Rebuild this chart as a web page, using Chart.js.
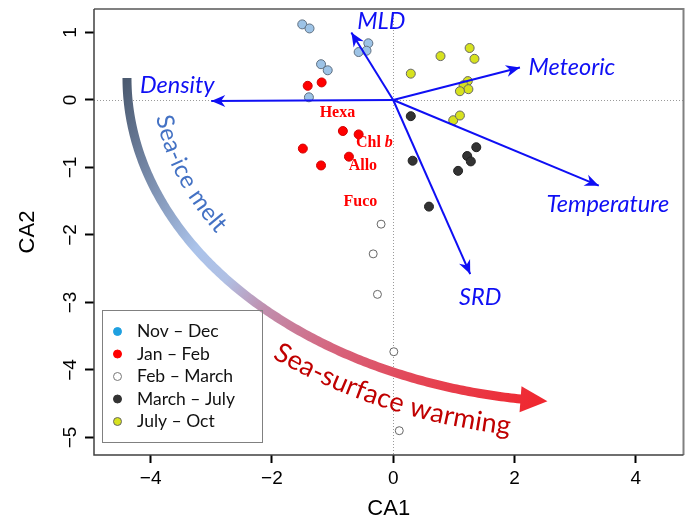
<!DOCTYPE html>
<html>
<head>
<meta charset="utf-8">
<script src="https://cdn.jsdelivr.net/npm/chart.js@4.4.0/dist/chart.umd.min.js"></script>
<style>
  html, body { margin: 0; padding: 0; background: #fff; }
  #wrap { width: 689px; height: 522px; }
</style>
</head>
<body>
<div id="wrap"><canvas id="caPlot"></canvas></div>
<script>
// Sample scores (CA1, CA2) per season
const novDecX = [-1.50, -1.38, -0.41, -0.44, -0.57, -1.19, -1.08, -1.39];
const novDecY = [1.12, 1.06, 0.84, 0.73, 0.71, 0.53, 0.44, 0.04];
const janFebX = [-1.41, -1.18, -1.49, -0.83, -0.57, -0.73, -1.19];
const janFebY = [0.21, 0.26, -0.72, -0.46, -0.51, -0.84, -0.97];
const febMarX = [-0.20, -0.33, -0.26, 0.01, 0.10];
const febMarY = [-1.84, -2.28, -2.88, -3.73, -4.90];
const marJulX = [0.29, 0.32, 0.59, 1.07, 1.22, 1.28, 1.37];
const marJulY = [-0.24, -0.90, -1.58, -1.05, -0.83, -0.91, -0.70];
const julOctX = [0.29, 0.78, 1.26, 1.34, 1.23, 1.16, 1.24, 1.10, 0.99, 1.10];
const julOctY = [0.39, 0.65, 0.77, 0.61, 0.28, 0.22, 0.16, 0.13, -0.30, -0.23];

// Environmental vectors
const arrowNames = ['MLD', 'Meteoric', 'Temperature', 'SRD', 'Density'];
const arrowX = [-0.69, 2.09, 3.39, 1.27, -3.00];
const arrowY = [1.00, 0.48, -1.27, -2.58, -0.015];

// Pigment scores
const pigmentNames = ['Hexa', 'Chl b', 'Allo', 'Fuco'];
const pigmentX = [-0.92, -0.31, -0.50, -0.54];
const pigmentY = [-0.19, -0.64, -0.98, -1.51];

const xTicks = [-4, -2, 0, 2, 4];
const yTicks = [-5, -4, -3, -2, -1, 0, 1];

const seasonNames = ['Nov \u2013 Dec', 'Jan \u2013 Feb', 'Feb \u2013 March', 'March \u2013 July', 'July \u2013 Oct'];

// label offsets (px) from arrow tips
const arrowLabelOffset = [[30, -11], [52, 0], [9, 19], [10, 23], [-34, -16]];

// big curved arrow, ellipse in data units
const seaArc = { cx: 3.23, cy: 0.326, a: 7.62, b: 4.81 };

const pts = (xs, ys) => xs.map((x, i) => ({ x: x, y: ys[i] }));
const minus = v => String(v).replace('-', '\u2212');

const ARROW_BLUE = '#0f0ff4';
const labelFont = 'Lato, "Open Sans", sans-serif';

const arrowSets = arrowNames.map((name, i) => ({
    label: name,
    data: [{ x: 0, y: 0 }, { x: arrowX[i], y: arrowY[i] }],
    showLine: true,
    borderColor: ARROW_BLUE,
    borderWidth: 2,
    pointRadius: 0,
    fill: false
}));

const pointSets = [
    { label: seasonNames[0], data: pts(novDecX, novDecY), backgroundColor: '#9dc3e6', borderColor: '#5f6f80', pointRadius: 4.5 },
    { label: seasonNames[1], data: pts(janFebX, janFebY), backgroundColor: '#ff0000', borderColor: '#d00000', pointRadius: 4.5 },
    { label: seasonNames[2], data: pts(febMarX, febMarY), backgroundColor: '#ffffff', borderColor: '#666666', pointRadius: 4 },
    { label: seasonNames[3], data: pts(marJulX, marJulY), backgroundColor: '#333333', borderColor: '#222222', pointRadius: 4.5 },
    { label: seasonNames[4], data: pts(julOctX, julOctY), backgroundColor: '#d7e21e', borderColor: '#666666', pointRadius: 4.5 }
].map(d => Object.assign(d, { borderWidth: 1, showLine: false }));

const legendColors = [['#1fa0e0', '#1fa0e0'], ['#ff0000', '#ff0000'], ['#ffffff', '#777777'], ['#333333', '#333333'], ['#d7e21e', '#666666']];

function arrowHead(ctx, fx, fy, tx, ty, len, half, notch, color) {
    const ang = Math.atan2(ty - fy, tx - fx);
    const ux = Math.cos(ang), uy = Math.sin(ang);
    ctx.beginPath();
    ctx.moveTo(tx, ty);
    ctx.lineTo(tx - len * ux - half * uy, ty - len * uy + half * ux);
    ctx.lineTo(tx - notch * len * ux, ty - notch * len * uy);
    ctx.lineTo(tx - len * ux + half * uy, ty - len * uy - half * ux);
    ctx.closePath();
    ctx.fillStyle = color;
    ctx.fill();
}

// write text along an ellipse, offset > 0 means toward the centre
function textOnEllipse(ctx, e, text, t1, t2, offset, font, color) {
    const n = 400;
    const p = [];
    for (let i = 0; i <= n; i++) {
        const t = t1 + (t2 - t1) * i / n;
        let nx = e.b * Math.cos(t), ny = e.a * Math.sin(t);
        const nl = Math.hypot(nx, ny);
        nx /= nl; ny /= nl;
        p.push({ x: e.cx + e.a * Math.cos(t) - offset * nx, y: e.cy + e.b * Math.sin(t) - offset * ny });
    }
    const cum = [0];
    for (let i = 1; i <= n; i++) cum.push(cum[i - 1] + Math.hypot(p[i].x - p[i - 1].x, p[i].y - p[i - 1].y));
    ctx.font = font;
    ctx.fillStyle = color;
    ctx.textAlign = 'center';
    ctx.textBaseline = 'middle';
    let s = (cum[n] - ctx.measureText(text).width) / 2;
    for (const ch of text) {
        const w = ctx.measureText(ch).width;
        const target = s + w / 2;
        let k = 1;
        while (k < n && cum[k] < target) k++;
        const f = (target - cum[k - 1]) / (cum[k] - cum[k - 1] || 1);
        const x = p[k - 1].x + f * (p[k].x - p[k - 1].x);
        const y = p[k - 1].y + f * (p[k].y - p[k - 1].y);
        const ang = Math.atan2(p[k].y - p[k - 1].y, p[k].x - p[k - 1].x);
        ctx.save();
        ctx.translate(x, y);
        ctx.rotate(ang);
        ctx.fillText(ch, 0, 0);
        ctx.restore();
        s += w;
    }
}

const annotations = {
    id: 'annotations',
    beforeDatasetsDraw(chart) {
        const { ctx, chartArea: ca, scales: { x, y } } = chart;
        ctx.save();
        ctx.strokeStyle = '#9a9a9a';
        ctx.lineWidth = 1;
        ctx.setLineDash([1, 2]);
        ctx.beginPath();
        ctx.moveTo(Math.round(x.getPixelForValue(0)) + 0.5, ca.top);
        ctx.lineTo(Math.round(x.getPixelForValue(0)) + 0.5, ca.bottom);
        ctx.moveTo(ca.left, Math.round(y.getPixelForValue(0)) + 0.5);
        ctx.lineTo(ca.right, Math.round(y.getPixelForValue(0)) + 0.5);
        ctx.stroke();
        ctx.restore();
    },
    afterDatasetsDraw(chart) {
        const { ctx, scales: { x, y } } = chart;
        const ox = x.getPixelForValue(0), oy = y.getPixelForValue(0);
        ctx.save();

        // vector heads and names
        arrowNames.forEach((name, i) => {
            const tx = x.getPixelForValue(arrowX[i]), ty = y.getPixelForValue(arrowY[i]);
            arrowHead(ctx, ox, oy, tx, ty, 14, 6, 0.7, ARROW_BLUE);
            ctx.font = 'italic 23.5px ' + labelFont;
            ctx.fillStyle = ARROW_BLUE;
            ctx.textAlign = 'center';
            ctx.textBaseline = 'middle';
            ctx.fillText(name, tx + arrowLabelOffset[i][0], ty + arrowLabelOffset[i][1]);
        });

        // pigment names
        ctx.fillStyle = '#ff0000';
        ctx.textBaseline = 'middle';
        pigmentNames.forEach((name, i) => {
            const px = x.getPixelForValue(pigmentX[i]), py = y.getPixelForValue(pigmentY[i]);
            if (name === 'Chl b') {
                const f1 = 'bold 16px "Liberation Serif", serif';
                const f2 = 'italic bold 16px "Liberation Serif", serif';
                ctx.font = f1;
                const w1 = ctx.measureText('Chl ').width;
                ctx.font = f2;
                const w2 = ctx.measureText('b').width;
                ctx.textAlign = 'left';
                ctx.font = f1;
                ctx.fillText('Chl ', px - (w1 + w2) / 2, py);
                ctx.font = f2;
                ctx.fillText('b', px - (w1 + w2) / 2 + w1, py);
            } else {
                ctx.font = 'bold 16px "Liberation Serif", serif';
                ctx.textAlign = 'center';
                ctx.fillText(name, px, py);
            }
        });

        // curved gradient arrow
        const e = {
            cx: x.getPixelForValue(seaArc.cx),
            cy: y.getPixelForValue(seaArc.cy)
        };
        e.a = x.getPixelForValue(seaArc.cx + seaArc.a) - e.cx;
        e.b = y.getPixelForValue(seaArc.cy - seaArc.b) - e.cy;
        const at = t => ({ x: e.cx + e.a * Math.cos(t), y: e.cy + e.b * Math.sin(t) });
        const tStart = Math.PI, tShaft = 1.712, tTip = 1.661;
        const p0 = at(tStart), tip = at(tTip);
        const grad = ctx.createLinearGradient(p0.x, p0.y, tip.x, tip.y);
        grad.addColorStop(0, '#4b5a70');
        grad.addColorStop(0.12, '#6f819f');
        grad.addColorStop(0.3, '#abc3ea');
        grad.addColorStop(0.38, '#b0c0e4');
        grad.addColorStop(0.47, '#c08fae');
        grad.addColorStop(0.62, '#d6647d');
        grad.addColorStop(0.78, '#e44656');
        grad.addColorStop(1, '#f0262e');
        ctx.beginPath();
        for (let i = 0; i <= 200; i++) {
            const q = at(tStart + (tShaft - tStart) * i / 200);
            if (i === 0) ctx.moveTo(q.x, q.y); else ctx.lineTo(q.x, q.y);
        }
        ctx.strokeStyle = grad;
        ctx.lineWidth = 9;
        ctx.lineCap = 'butt';
        ctx.stroke();
        const back = at(tTip + 0.03);
        const dir = Math.atan2(tip.y - back.y, tip.x - back.x);
        arrowHead(ctx, tip.x - Math.cos(dir) * 10, tip.y - Math.sin(dir) * 10, tip.x, tip.y, 27, 13, 1, grad);

        textOnEllipse(ctx, e, 'Sea-ice melt', 3.003, 2.585, 33, '24px ' + labelFont, '#4472c4');
        textOnEllipse(ctx, e, 'Sea-surface warming', 2.249, 1.757, -28, '27px ' + labelFont, '#c00000');

        // legend
        ctx.strokeStyle = '#808080';
        ctx.lineWidth = 1;
        ctx.strokeRect(102.5, 310.5, 160, 132);
        seasonNames.forEach((name, i) => {
            const ry = 331.5 + i * 22.5;
            ctx.beginPath();
            ctx.arc(117.5, ry, 4, 0, Math.PI * 2);
            ctx.fillStyle = legendColors[i][0];
            ctx.fill();
            ctx.strokeStyle = legendColors[i][1];
            ctx.stroke();
            ctx.fillStyle = '#111';
            ctx.font = '17.5px ' + labelFont;
            ctx.textAlign = 'left';
            ctx.textBaseline = 'middle';
            ctx.fillText(name, 137, ry);
        });
        ctx.restore();
    },
    afterDraw(chart) {
        const { ctx, chartArea: ca, scales: { y } } = chart;
        ctx.save();
        // frame
        ctx.lineWidth = 2;
        ctx.strokeStyle = '#808080';
        ctx.beginPath();
        ctx.moveTo(ca.left, ca.top);
        ctx.lineTo(ca.right, ca.top);
        ctx.lineTo(ca.right, ca.bottom);
        ctx.stroke();
        ctx.lineWidth = 1.5;
        ctx.strokeStyle = '#404040';
        ctx.beginPath();
        ctx.moveTo(ca.right, ca.bottom);
        ctx.lineTo(ca.left, ca.bottom);
        ctx.lineTo(ca.left, ca.top);
        ctx.stroke();
        // rotated y tick labels
        ctx.fillStyle = '#000';
        ctx.font = '19px "Liberation Sans", Arial, sans-serif';
        ctx.textAlign = 'center';
        ctx.textBaseline = 'middle';
        yTicks.forEach(v => {
            ctx.save();
            ctx.translate(71, y.getPixelForValue(v));
            ctx.rotate(-Math.PI / 2);
            ctx.fillText(minus(v), 0, 0);
            ctx.restore();
        });
        ctx.restore();
    }
};

const caCtx = document.getElementById('caPlot');
new Chart(caCtx, {
    type: 'scatter',
    data: { datasets: arrowSets.concat(pointSets) },
    options: {
        responsive: true,
        maintainAspectRatio: false,
        animation: false,
        events: [],
        layout: { padding: { top: 9, right: 2, left: 0, bottom: 0 } },
        plugins: {
            legend: { display: false },
            tooltip: { enabled: false }
        },
        scales: {
            x: {
                type: 'linear',
                min: -4.934,
                max: 4.787,
                afterBuildTicks: s => { s.ticks = xTicks.map(v => ({ value: v })); },
                afterFit: s => { s.height = 67; },
                border: { display: false },
                grid: { drawOnChartArea: false, drawTicks: true, tickLength: 8, tickWidth: 2, tickColor: '#000' },
                ticks: {
                    color: '#000',
                    padding: 4,
                    font: { family: '"Liberation Sans", Arial, sans-serif', size: 19 },
                    callback: v => minus(v)
                },
                title: {
                    display: true,
                    text: 'CA1',
                    color: '#000',
                    font: { family: '"Liberation Sans", Arial, sans-serif', size: 22 },
                    padding: { top: 0, bottom: 0 }
                }
            },
            y: {
                type: 'linear',
                min: -5.26,
                max: 1.348,
                afterBuildTicks: s => { s.ticks = yTicks.map(v => ({ value: v })); },
                afterFit: s => { s.width = 94; },
                border: { display: false },
                grid: { drawOnChartArea: false, drawTicks: true, tickLength: 9, tickWidth: 2, tickColor: '#000' },
                ticks: { display: false },
                title: {
                    display: true,
                    text: 'CA2',
                    color: '#000',
                    font: { family: '"Liberation Sans", Arial, sans-serif', size: 22 },
                    padding: { top: 15, bottom: 0 }
                }
            }
        }
    },
    plugins: [annotations]
});
</script>
</body>
</html>
